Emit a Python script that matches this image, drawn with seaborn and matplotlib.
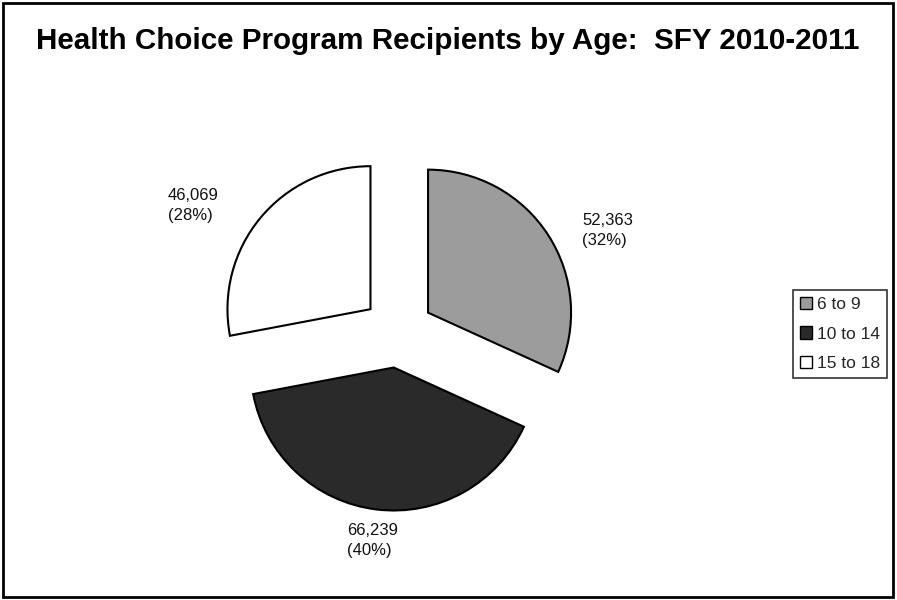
import numpy as np
import matplotlib
matplotlib.use("Agg")
import matplotlib.pyplot as plt
import seaborn as sns
from matplotlib.patches import Rectangle

sns.set_theme(style="white")
plt.rcParams['font.family'] = ['Liberation Sans', 'DejaVu Sans']

categories = ["6 to 9", "10 to 14", "15 to 18"]
values = [52363, 66239, 46069]
percents = ["32%", "40%", "28%"]
colors = ["#9c9c9c", "#2a2a2a", "#ffffff"]

fig = plt.figure(figsize=(8.97, 6.0), dpi=100)
fig.patch.set_facecolor("white")
ax = fig.add_axes([0, 0, 1, 1])

R = 143.0
cx, cy = 398.0, 600 - 332.0

wedges, _ = ax.pie(values, colors=colors, startangle=90, counterclock=False,
                   explode=[0.25, 0.25, 0.25], radius=1.0,
                   wedgeprops=dict(edgecolor="black", linewidth=1.5),
                   frame=False)
ax.set_xlim(-cx / R, (897 - cx) / R)
ax.set_ylim(-cy / R, (600 - cy) / R)
ax.set_aspect("auto")
ax.axis("off")

# label placement relative to each wedge's mid angle: (distance, angle offset, ha, dx)
label_pos = [(1.47, -4.0, "left", 0.0), (1.47, 0.0, "center", 0.0), (1.64, 7.0, "center", -0.05)]
for w, v, p, (d, off, ha, dx) in zip(wedges, values, percents, label_pos):
    mid = np.deg2rad((w.theta1 + w.theta2) / 2 + off)
    x, y = d * np.cos(mid) + dx, d * np.sin(mid)
    if ha == "left":
        x = 1.287
    ax.text(x, y, f"{v:,}\n({p})", ha=ha, va="center", fontsize=12,
            color="#111111", linespacing=1.4,
            multialignment="left")

fig.suptitle("Health Choice Program Recipients by Age:  SFY 2010-2011",
             x=0.4995, y=0.932, va="center", fontsize=21.3, fontweight="bold",
             color="black")

leg = fig.legend(wedges, categories, loc="center left",
                 bbox_to_anchor=(793 / 897, 1 - 334 / 600), fontsize=12.5,
                 frameon=True, fancybox=False, edgecolor="black",
                 handlelength=0.7, handleheight=0.7, handletextpad=0.3,
                 borderpad=0.4, labelspacing=0.85, borderaxespad=0)
leg.get_frame().set_linewidth(1.2)
for h in leg.legend_handles:
    h.set_linewidth(1.0)

fig.add_artist(Rectangle((3 / 897, 3 / 600), 890 / 897, 594 / 600,
                         transform=fig.transFigure, fill=False,
                         edgecolor="black", linewidth=2))

fig.savefig("out.png", dpi=100, facecolor="white")
